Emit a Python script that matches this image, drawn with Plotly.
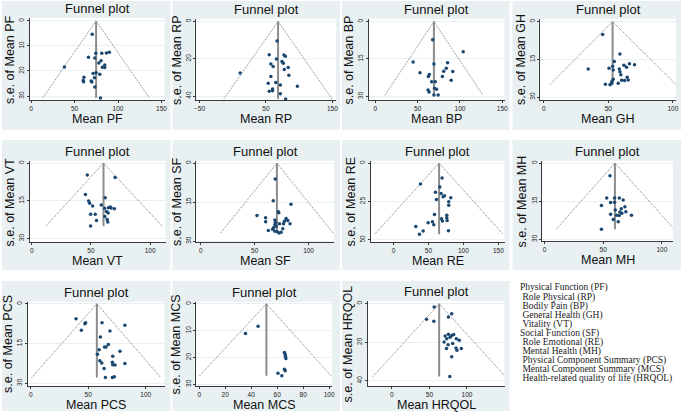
import plotly.graph_objects as go

W, H = 685, 418

# ---------------- data ----------------
pf_mean = [70.3, 81.3, 86.6, 90.0, 74.4, 66.0, 73.3, 80.5, 77.9, 84.7, 38.4, 82.0, 84.7, 79.0, 74.8, 71.4, 60.8, 72.9, 60.0, 69.1, 69.9, 60.4, 73.3, 79.8]
pf_se = [5.3, 12.9, 12.8, 12.5, 12.9, 14.5, 14.8, 15.9, 16.8, 17.6, 18.4, 18.5, 18.6, 21.3, 20.7, 21.0, 22.5, 22.7, 23.8, 24.0, 24.4, 24.3, 26.4, 30.8]
pf_pooled = 74.8
pf_limits = [13.3, 136.0]

rp_mean = [66.7, 54.9, 77.1, 79.1, 65.8, 74.1, 76.1, 57.4, 60.8, 83.5, 77.6, 11.1, 84.5, 57.4, 64.8, 53.4, 71.7, 97.3, 59.9, 59.9, 54.9, 71.7, 79.6]
rp_se = [10.5, 17.8, 18.0, 18.7, 20.1, 21.5, 22.4, 22.8, 24.2, 24.7, 25.8, 27.7, 28.8, 29.5, 32.7, 33.2, 34.1, 34.8, 36.3, 37.2, 37.5, 38.8, 41.6]
rp_pooled = 68.2
rp_limits = [-13.5, 149.5]

bp_mean = [67.7, 103.8, 44.6, 69.2, 85.4, 83.8, 80.8, 91.5, 52.7, 63.8, 62.7, 79.2, 89.6, 66.5, 70.8, 70.0, 72.3, 62.3, 63.5, 69.2, 74.2]
bp_se = [7.3, 12.1, 16.2, 17.0, 16.5, 18.7, 19.9, 20.0, 20.5, 21.2, 22.0, 22.0, 23.6, 24.2, 24.2, 26.8, 27.2, 27.5, 28.3, 29.5, 29.5]
bp_pooled = 69.2
bp_limits = [11.5, 127.0]

gh_mean = [45.6, 59.0, 54.6, 62.1, 66.4, 70.3, 64.1, 34.4, 50.5, 53.3, 53.8, 58.5, 59.0, 59.7, 64.6, 65.4, 62.6, 60.3, 53.8, 52.8, 52.3, 47.7, 51.3, 57.7]
gh_se = [5.1, 12.9, 15.9, 17.4, 16.8, 17.2, 18.2, 18.9, 18.6, 17.8, 19.2, 18.9, 19.9, 21.1, 22.1, 23.2, 23.4, 23.3, 22.9, 23.8, 24.6, 24.9, 25.1, 24.5]
gh_pooled = 53.3
gh_limits = [4.6, 102.6]

vt_mean = [46.9, 70.4, 45.3, 62.0, 48.0, 48.9, 58.7, 51.4, 61.5, 64.8, 66.2, 67.0, 69.8, 63.1, 64.5, 49.7, 53.6, 61.7, 63.7, 54.7, 64.2, 49.7]
vt_se = [4.7, 5.7, 12.5, 13.8, 15.1, 16.0, 16.7, 17.1, 18.0, 17.8, 17.5, 17.9, 18.2, 19.3, 19.9, 20.4, 20.4, 21.3, 22.4, 22.8, 23.4, 25.0]
vt_pooled = 60.6
vt_limits = [12.0, 110.0]

sf_mean = [69.0, 67.2, 71.8, 72.4, 83.7, 52.1, 60.1, 60.1, 68.7, 69.3, 68.7, 69.9, 67.5, 79.1, 80.7, 77.6, 82.8, 76.7, 73.0, 66.6, 62.6, 76.1, 74.5, 70.9, 72.7, 68.7]
sf_se = [6.1, 14.4, 18.7, 19.1, 15.8, 20.1, 21.0, 22.5, 21.8, 22.7, 23.6, 24.2, 24.8, 21.3, 22.0, 22.3, 23.3, 23.3, 23.3, 25.4, 25.9, 25.2, 26.6, 26.4, 26.8, 26.2]
sf_pooled = 70.6
sf_limits = [18.4, 122.7]

re_mean = [69.5, 38.6, 66.2, 60.0, 68.1, 72.9, 71.0, 81.9, 79.0, 79.0, 61.4, 58.6, 76.2, 76.2, 76.7, 68.6, 70.0, 55.7, 49.5, 57.6, 31.9, 42.4, 78.6, 37.1]
re_se = [9.7, 13.6, 15.5, 19.0, 19.8, 21.3, 21.8, 22.6, 25.2, 27.4, 23.7, 33.4, 34.0, 35.6, 37.3, 36.2, 37.7, 38.1, 38.8, 40.1, 41.2, 44.2, 44.0, 46.3]
re_pooled = 65.2
re_limits = [-27.0, 157.0]

mh_mean = [55.8, 53.0, 59.7, 63.7, 67.0, 56.3, 59.7, 48.5, 68.5, 65.4, 60.3, 64.2, 69.3, 65.9, 56.3, 61.4, 63.7, 74.1, 58.6, 62.8, 48.5]
mh_se = [5.0, 13.7, 13.7, 13.7, 14.5, 15.5, 15.4, 16.7, 17.2, 18.0, 18.5, 19.3, 19.2, 19.8, 20.2, 20.5, 20.6, 20.5, 22.2, 23.1, 26.1]
mh_pooled = 60.0
mh_limits = [9.9, 110.7]

pcs_mean = [39.4, 47.7, 47.1, 62.0, 81.9, 44.0, 68.9, 60.6, 67.5, 65.5, 64.1, 59.5, 77.6, 58.0, 71.3, 60.1, 61.8, 71.0, 71.3, 73.3, 81.9, 63.8, 64.9, 71.0, 72.7]
pcs_se = [5.6, 7.1, 7.5, 7.1, 8.1, 10.0, 10.3, 12.5, 15.4, 16.3, 16.3, 17.3, 17.9, 19.0, 19.8, 21.5, 22.3, 22.1, 23.0, 23.1, 22.5, 24.4, 27.8, 27.8, 27.5]
pcs_pooled = 57.5
pcs_limits = [0.9, 113.0]

mcs_mean = [45.3, 35.6, 65.6, 66.2, 66.7, 66.4, 65.6, 66.2, 60.6, 63.6]
mcs_se = [8.4, 11.1, 18.1, 18.9, 20.4, 19.5, 24.4, 24.9, 25.9, 26.8]
mcs_pooled = 51.7
mcs_limits = [0.3, 101.5]

hrqol_mean = [56.4, 79.7, 75.3, 46.2, 55.9, 75.3, 82.3, 70.9, 77.5, 73.1, 85.9, 89.8, 79.7, 69.6, 81.0, 74.9, 72.7, 85.4, 86.7, 92.5, 79.7, 77.1]
hrqol_se = [1.7, 5.2, 6.9, 8.1, 9.1, 15.8, 16.0, 16.8, 17.4, 18.2, 18.2, 18.9, 16.5, 19.8, 20.6, 21.3, 23.2, 23.0, 24.1, 23.2, 27.5, 37.8]
hrqol_pooled = 63.0
hrqol_limits = [-25.0, 151.0]

legend_lines = [
    "Physical Function (PF)",
    "\u00a0Role Physical (RP)",
    "\u00a0Bodily Pain (BP)",
    "\u00a0General Health (GH)",
    "\u00a0Vitality (VT)",
    "Social Function (SF)",
    "\u00a0Role Emotional (RE)",
    "\u00a0Mental Health (MH)",
    "\u00a0Physical Component Summary (PCS)",
    "\u00a0Mental Component Summary (MCS)",
    "\u00a0Health-related quality of life (HRQOL)",
]

# ---------------- layout of the panels (pixels) ----------------
# label, x, se, pooled, limits, background box, plot box, x range, y range, x ticks, y ticks
panels = [
    ("PF", pf_mean, pf_se, pf_pooled, pf_limits, (0, 0, 170, 130), (28, 17, 164, 100), [-1.5, 153.5], [31.7, -1.2], [0, 50, 100, 150], [0, 10, 20, 30]),
    ("RP", rp_mean, rp_se, rp_pooled, rp_limits, (172, 0, 341, 130), (196, 18, 337, 100), [-54.9, 155.5], [42.3, -1.4], [-50, 50, 150], [0, 20, 40]),
    ("BP", bp_mean, bp_se, bp_pooled, bp_limits, (343, 0, 512, 130), (370, 18, 507, 100), [-7.8, 152.7], [31.6, -1.1], [0, 50, 100, 150], [0, 15, 30]),
    ("GH", gh_mean, gh_se, gh_pooled, gh_limits, (515, 0, 685, 130), (543, 18, 680, 100), [-2.8, 102.5], [31.3, -1.1], [0, 50, 100], [0, 15, 30]),
    ("VT", vt_mean, vt_se, vt_pooled, vt_limits, (0, 140, 170, 271), (28, 161, 165, 243), [-1.7, 113.0], [31.5, -0.9], [0, 50, 100], [0, 15, 30]),
    ("SF", sf_mean, sf_se, sf_pooled, sf_limits, (172, 140, 341, 271), (196, 161, 335, 243), [-4.3, 123.7], [30.4, -0.9], [0, 50, 100], [0, 15, 30]),
    ("RE", re_mean, re_se, re_pooled, re_limits, (343, 140, 512, 271), (372, 161, 507, 243), [-32.6, 158.9], [51.5, -1.5], [0, 50, 100, 150], [0, 25, 50]),
    ("MH", mh_mean, mh_se, mh_pooled, mh_limits, (515, 140, 685, 271), (545, 161, 677, 242), [-1.9, 109.5], [30.8, -0.9], [0, 50, 100], [0, 15, 30]),
    ("PCS", pcs_mean, pcs_se, pcs_pooled, pcs_limits, (0, 282, 170, 413), (26, 303, 164, 388), [-2.6, 116.4], [31.1, -0.75], [0, 50, 100], [0, 15, 30]),
    ("MCS", mcs_mean, mcs_se, mcs_pooled, mcs_limits, (172, 282, 341, 413), (196, 303, 333, 388), [-2.3, 102.3], [30.7, -0.74], [0, 20, 40, 60, 80, 100], [0, 10, 20, 30]),
    ("HRQOL", hrqol_mean, hrqol_se, hrqol_pooled, hrqol_limits, (343, 282, 512, 413), (369, 302, 507, 388), [-32.0, 150.0], [42.8, -1.5], [0, 50, 100], [0, 20, 40]),
]

BG = "#E8F0F2"
NAVY = "#1a476f"
FONT = "Liberation Sans, Arial, sans-serif"


def px(x):
    return x / W


def py(y):
    return 1 - y / H


fig = go.Figure()
shapes = []
annotations = []
layout_axes = {}

for i, (lab, xs, ses, pooled, limits, box, pbox, xr, yr, xt, yt) in enumerate(panels):
    n = "" if i == 0 else str(i + 1)
    xa, ya = "x" + n, "y" + n
    semax = max(ses)
    bl, bt, br, bb = box
    l, t, r, b = pbox
    shapes.append(dict(type="rect", xref="paper", yref="paper", x0=px(bl), x1=px(br), y0=py(bb), y1=py(bt),
                       fillcolor=BG, line=dict(width=0), layer="below"))
    shapes.append(dict(type="rect", xref="paper", yref="paper", x0=px(l), x1=px(r), y0=py(b), y1=py(t),
                       fillcolor="white", line=dict(width=0), layer="below"))
    # pseudo confidence limits
    fig.add_trace(go.Scatter(x=[limits[0], pooled, limits[1]], y=[semax, 0, semax], xaxis=xa, yaxis=ya,
                             mode="lines", line=dict(color="#707070", width=0.9, dash="1px,1px"), hoverinfo="skip"))
    # pooled estimate line
    fig.add_trace(go.Scatter(x=[pooled, pooled], y=[0, semax], xaxis=xa, yaxis=ya, mode="lines",
                             line=dict(color="#8c8c8c", width=2), hoverinfo="skip"))
    # studies
    fig.add_trace(go.Scatter(x=xs, y=ses, xaxis=xa, yaxis=ya, mode="markers",
                             marker=dict(color=NAVY, size=3.5), cliponaxis=False))
    axis_common = dict(showline=True, linecolor="#3a3a3a", linewidth=1, ticks="outside", ticklen=2,
                       tickcolor="#3a3a3a", tickfont=dict(family=FONT, size=6.5, color="#222"),
                       zeroline=False, mirror=False)
    layout_axes["xaxis" + n] = dict(domain=[px(l), px(r)], anchor=ya, range=xr, tickmode="array", tickvals=xt,
                                    showgrid=False, **axis_common)
    layout_axes["yaxis" + n] = dict(domain=[py(b), py(t)], anchor=xa, range=yr, tickmode="array", tickvals=yt,
                                    showgrid=True, gridcolor=BG, gridwidth=1, tickangle=-90, **axis_common)
    annotations.append(dict(text="Funnel plot", xref="paper", yref="paper", x=px((l + r) / 2), y=py(t - 9),
                            xanchor="center", yanchor="middle", showarrow=False,
                            font=dict(family=FONT, size=13, color="#111")))
    annotations.append(dict(text="Mean " + lab, xref="paper", yref="paper", x=px((l + r) / 2), y=py(b + 19),
                            xanchor="center", yanchor="middle", showarrow=False,
                            font=dict(family=FONT, size=12.5, color="#111")))
    annotations.append(dict(text="s.e. of Mean " + lab, xref="paper", yref="paper", x=px(l - 20), y=py((t + b) / 2),
                            xanchor="center", yanchor="middle", showarrow=False, textangle=-90,
                            font=dict(family=FONT, size=12.5, color="#111")))

for k, line in enumerate(legend_lines):
    annotations.append(dict(text=line, xref="paper", yref="paper", x=px(521), y=py(289 + 9.17 * k),
                            xanchor="left", yanchor="middle", showarrow=False,
                            font=dict(family="Liberation Serif, Times New Roman, serif", size=9.5, color="#222")))

fig.update_layout(width=W, height=H, margin=dict(l=0, r=0, t=0, b=0), paper_bgcolor="white",
                  plot_bgcolor="rgba(0,0,0,0)", showlegend=False, shapes=shapes, annotations=annotations,
                  **layout_axes)

fig.write_html("out.html", config={"displayModeBar": False},
               post_script="document.body.style.margin='0';document.body.style.overflow='hidden';")
